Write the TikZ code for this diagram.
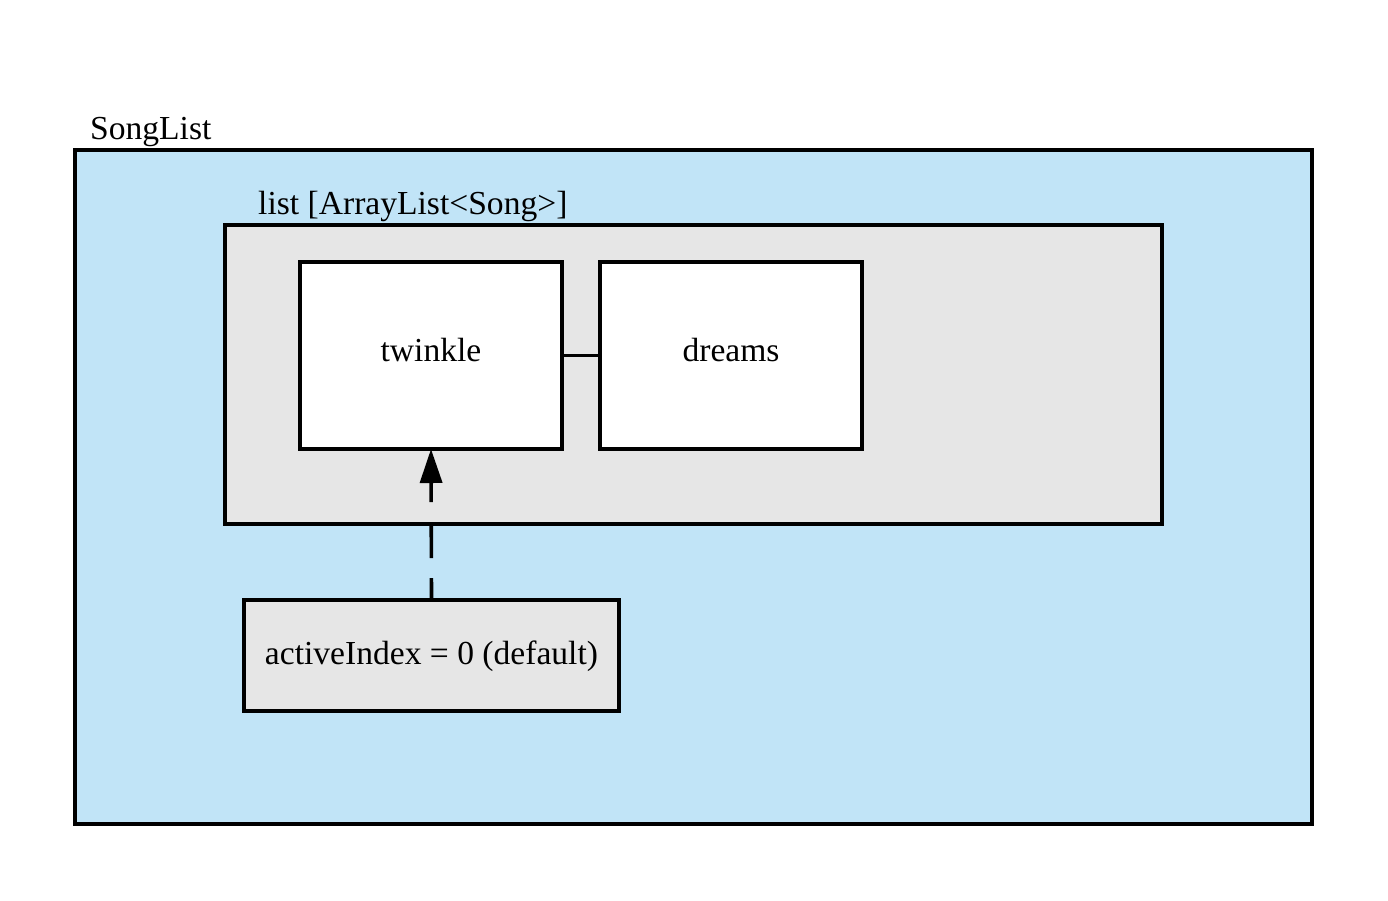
\documentclass[tikz,border=0pt]{standalone}
\usepackage{fontspec}
\setmainfont{Liberation Serif}
\usetikzlibrary{arrows.meta}
\definecolor{outerblue}{HTML}{C1E4F7}
\definecolor{boxgrey}{HTML}{E6E6E6}
\tikzset{
  frame/.style={draw=black, line width=3.6bp, outer sep=0pt},
  item/.style={frame, fill=white, minimum width=262bp, minimum height=187bp, inner sep=0pt, text height=22bp, text depth=11bp},
  lbl/.style={anchor=base west, inner sep=0pt, font=\fontsize{33.7}{40}\selectfont},
  txt/.style={font=\fontsize{33.7}{40}\selectfont},
  link/.style={line width=3.6bp},
  pointer/.style={line width=3.6bp, dash pattern=on 36bp off 20bp, dash phase=14bp, -{Triangle[length=34bp,width=22bp]}}
}
\begin{document}
\begin{tikzpicture}[x=1bp,y=-1bp]
\useasboundingbox (0,0) rectangle (1388,900);
\fill[white] (0,0) rectangle (1388,900);
% outer SongList
\node[frame, fill=outerblue, minimum width=1237bp, minimum height=674bp, inner sep=0pt, anchor=north west] (songlist) at (75,150) {};
\node[lbl] (songlistlbl) at (90,139) {SongList};
% list container
\node[frame, fill=boxgrey, minimum width=937bp, minimum height=299bp, inner sep=0pt, anchor=north west] (list) at (225,225) {};
\node[lbl] (listlbl) at (258,214) {list [ArrayList<Song>]};
% items
\node[item, txt, anchor=north west] (twinkle) at (300,262) {twinkle};
\node[item, txt, anchor=north west] (dreams) at (600,262) {dreams};
\draw[link] (twinkle.east) -- (dreams.west);
% activeIndex
\node[frame, fill=boxgrey, txt, minimum width=375bp, minimum height=111bp, inner sep=0pt, text height=25bp, text depth=8bp, anchor=north west] (active) at (244,600) {activeIndex = 0 (default)};
\draw[pointer] (active.north) -- (twinkle.south);
\end{tikzpicture}
\end{document}
